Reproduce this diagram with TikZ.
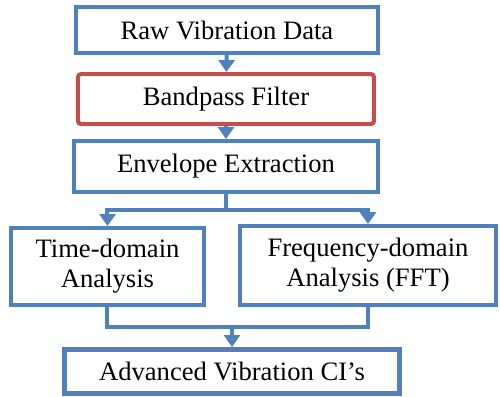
\documentclass[tikz,border=0pt]{standalone}
\usepackage{fontspec}
\setmainfont{Liberation Serif}
\usepackage{xcolor}
\usepackage{tikz}
\usetikzlibrary{positioning, arrows.meta}

\definecolor{boxblue}{RGB}{79,129,189}
\definecolor{boxred}{RGB}{192,80,77}

\begin{document}
\begin{tikzpicture}[
  x=0.5pt, y=-0.5pt,
  font=\fontsize{13.3}{15}\selectfont,
  stepbox/.style={draw=boxblue, line width=2pt, rectangle, inner sep=0pt,
    align=center, fill=white},
  filterbox/.style={stepbox, draw=boxred, rounded corners=1.5pt},
  arr/.style={-{Triangle[length=6pt, width=8pt]}, line width=2pt, boxblue},
  link/.style={line width=2pt, boxblue},
]
  \useasboundingbox (0,0) rectangle (500,397);

  % Column: raw data, filter, envelope
  \node[stepbox, minimum width=151pt, minimum height=23pt] (raw) at (227,30) {Raw Vibration Data};
  \node[filterbox, minimum width=148pt, minimum height=25pt] (filter) at (226,99) {Bandpass Filter};
  \node[stepbox, minimum width=152pt, minimum height=25.5pt] (env) at (226,166.5) {Envelope Extraction};

  % Row: the two analyses
  \node[stepbox, minimum width=96.5pt, minimum height=38.5pt] (time) at (107.5,266.5) {Time-domain\\Analysis};
  \node[stepbox, minimum width=128pt, minimum height=39.5pt] (freq) at (368,265.5) {Frequency-domain\\Analysis (FFT)};

  % Bottom: result
  \node[stepbox, line width=2.5pt, minimum width=167.5pt, minimum height=22pt] (adv) at (232,371.5) {Advanced Vibration CI's};

  % Split and merge points
  \coordinate (split) at (226,210);
  \coordinate (merge) at (232,327);

  % Arrows
  \draw[arr] (raw) -- (filter);
  \draw[arr] (filter) -- (env);
  \draw[link] (env) -- (split);
  \draw[arr] (split) -| (time);
  \draw[arr] (split) -| (freq);
  \draw[link] (time) |- (merge) -| (freq);
  \draw[arr] (merge) -- (adv);
\end{tikzpicture}
\end{document}
